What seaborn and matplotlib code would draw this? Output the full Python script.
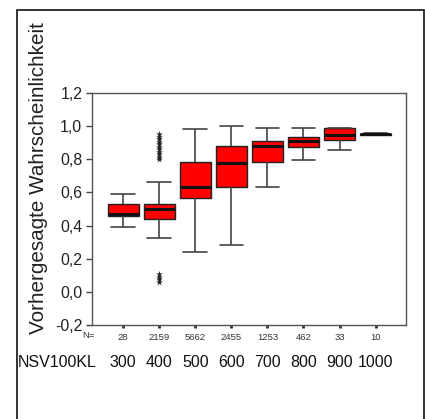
import numpy as np
import pandas as pd
import matplotlib
matplotlib.use("Agg")
import matplotlib.pyplot as plt
from matplotlib.patches import Rectangle
import seaborn as sns

# Classes of NSV100KL and case counts
categories = ["300", "400", "500", "600", "700", "800", "900", "1000"]
n_counts = [28, 2159, 5662, 2455, 1253, 462, 33, 10]

# Five-number summaries of predicted probability per class
whisker_lo = [0.389, 0.323, 0.24, 0.285, 0.635, 0.795, 0.855, 0.946]
q1 = [0.460, 0.439, 0.565, 0.635, 0.785, 0.877, 0.917, 0.948]
median = [0.467, 0.503, 0.635, 0.780, 0.883, 0.910, 0.947, 0.951]
q3 = [0.529, 0.529, 0.785, 0.878, 0.910, 0.937, 0.987, 0.954]
whisker_hi = [0.589, 0.665, 0.980, 1.000, 0.987, 0.987, 0.987, 0.956]

# Extreme values of class 400
outlier_cat = "400"
outlier_values = [0.80, 0.815, 0.83, 0.845, 0.86, 0.875, 0.89, 0.905, 0.92,
                  0.935, 0.95, 0.06, 0.075, 0.09, 0.105]

y_ticks = [-0.2, 0.0, 0.2, 0.4, 0.6, 0.8, 1.0, 1.2]
y_tick_labels = ["-0,2", "0,0", "0,2", "0,4", "0,6", "0,8", "1,0", "1,2"]

rows = []
for c, lo, a, m, b, hi in zip(categories, whisker_lo, q1, median, q3, whisker_hi):
    for v in (lo, a, m, b, hi):
        rows.append({"NSV100KL": c, "p": v})
df = pd.DataFrame(rows)
df_out = pd.DataFrame({"NSV100KL": [outlier_cat] * len(outlier_values),
                       "p": outlier_values})

sns.set_theme(style="white")
plt.rcParams["font.family"] = ["Liberation Sans", "DejaVu Sans"]

fig = plt.figure(figsize=(4.25, 4.19), dpi=100)
ax = fig.add_axes([92 / 425, 1 - 325 / 419, (406 - 92) / 425, (325 - 93) / 419])

sns.boxplot(data=df, x="NSV100KL", y="p", order=categories, ax=ax,
            color="#ff0000", saturation=1, linecolor="#222222", linewidth=1.0,
            width=0.86, whis=np.inf, showfliers=False,
            medianprops=dict(color="#111111", linewidth=2.2),
            whiskerprops=dict(color="#444444", linewidth=1.2),
            capprops=dict(color="#444444", linewidth=1.2),
            capwidths=0.65)

sns.stripplot(data=df_out, x="NSV100KL", y="p", order=categories, ax=ax,
              jitter=False, color="#222222", marker="*", size=5, linewidth=0)

ax.set_xlim(-0.86, 7.84)
ax.set_ylim(-0.2, 1.2)
ax.set_yticks(y_ticks)
ax.set_yticklabels(y_tick_labels, fontsize=11.4, color="#222222")
ax.set_xticks(range(len(categories)))
ax.set_xticklabels([str(n) for n in n_counts], fontsize=6.8, color="#333333")
ax.set_xlabel("")
ax.set_ylabel("")
ax.tick_params(axis="y", which="both", left=True, length=4, width=1,
               color="#444444", pad=3)
ax.tick_params(axis="x", which="both", bottom=True, length=2, width=2,
               color="#333333", pad=4)
for s in ax.spines.values():
    s.set_color("#555555")
    s.set_linewidth(1.0)

# "N=" header of the count row
ax.text(-0.95, -0.045, "N=", transform=ax.get_xaxis_transform(),
        ha="center", va="center", fontsize=6.8, color="#333333", clip_on=False)

# Class labels beneath the counts
for i, c in enumerate(categories):
    ax.text(i, -0.16, c, transform=ax.get_xaxis_transform(),
            ha="center", va="center", fontsize=11.5, color="#111111")
fig.text(57 / 425, 1 - 362.5 / 419, "NSV100KL", ha="center", va="center",
         fontsize=11.5, color="#111111")

fig.text(38.5 / 425, 1 - 178 / 419, "Vorhergesagte Wahrscheinlichkeit",
         rotation=90, ha="center", va="center", fontsize=14.9, color="#222222")

# Outer frame around the chart
fig.patches.append(Rectangle((17 / 425, -0.05), (424 - 17) / 425, 1.05 - 10 / 419,
                             transform=fig.transFigure, fill=False,
                             edgecolor="#111111", linewidth=1.2))

fig.savefig("out.png", dpi=100)
